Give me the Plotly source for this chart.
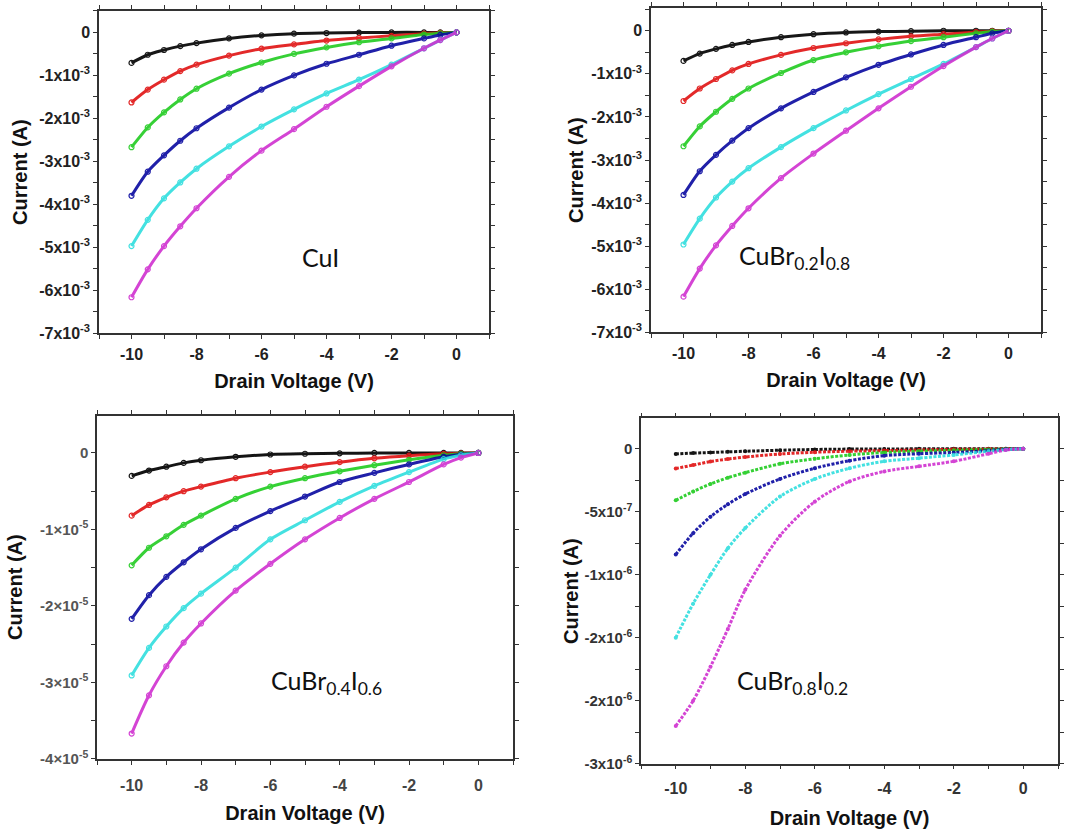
import plotly.graph_objects as go

# ---------------- data ----------------
V = [-10, -9.5, -9, -8.5, -8, -7, -6, -5, -4, -3, -2, -1, -0.5, 0]

series_names = ["Vg1", "Vg2", "Vg3", "Vg4", "Vg5", "Vg6"]
colors = ["#000000", "#e01414", "#22cc22", "#0a0aa0", "#30dede", "#d030d0"]

# Panel 1: CuI  (units of 1e-3 A)
cui_scale = 1e-3
cui_black = [-0.71, -0.52, -0.41, -0.32, -0.25, -0.14, -0.07, -0.03, -0.015, -0.005, 0, 0, 0, 0]
cui_red = [-1.63, -1.33, -1.10, -0.90, -0.75, -0.54, -0.38, -0.28, -0.19, -0.13, -0.08, -0.03, -0.01, 0]
cui_green = [-2.67, -2.21, -1.86, -1.56, -1.31, -0.96, -0.70, -0.50, -0.35, -0.23, -0.14, -0.05, -0.02, 0]
cui_blue = [-3.80, -3.24, -2.86, -2.52, -2.23, -1.75, -1.33, -1.00, -0.73, -0.52, -0.31, -0.14, -0.06, 0]
cui_cyan = [-4.97, -4.36, -3.86, -3.49, -3.17, -2.65, -2.19, -1.79, -1.42, -1.10, -0.75, -0.37, -0.18, 0]
cui_magenta = [-6.16, -5.51, -4.97, -4.51, -4.09, -3.36, -2.75, -2.25, -1.73, -1.25, -0.79, -0.37, -0.18, 0]

# Panel 2: CuBr0.2I0.8  (units of 1e-3 A)
br02_scale = 1e-3
br02_black = [-0.70, -0.53, -0.42, -0.33, -0.26, -0.15, -0.08, -0.04, -0.02, -0.01, 0, 0, 0, 0]
br02_red = [-1.63, -1.34, -1.12, -0.92, -0.77, -0.56, -0.40, -0.29, -0.20, -0.13, -0.08, -0.03, -0.01, 0]
br02_green = [-2.68, -2.22, -1.88, -1.58, -1.34, -0.98, -0.68, -0.50, -0.36, -0.24, -0.15, -0.06, -0.02, 0]
br02_blue = [-3.81, -3.26, -2.88, -2.55, -2.26, -1.80, -1.42, -1.08, -0.79, -0.55, -0.33, -0.15, -0.06, 0]
br02_cyan = [-4.96, -4.36, -3.87, -3.50, -3.19, -2.70, -2.26, -1.85, -1.47, -1.12, -0.77, -0.38, -0.18, 0]
br02_magenta = [-6.17, -5.52, -4.98, -4.53, -4.12, -3.42, -2.85, -2.32, -1.80, -1.30, -0.82, -0.38, -0.18, 0]

# Panel 3: CuBr0.4I0.6  (units of 1e-5 A)
br04_scale = 1e-5
br04_black = [-0.30, -0.23, -0.18, -0.13, -0.095, -0.05, -0.02, -0.01, -0.005, 0, 0, 0, 0, 0]
br04_red = [-0.82, -0.68, -0.58, -0.50, -0.44, -0.33, -0.25, -0.18, -0.12, -0.07, -0.035, -0.01, -0.005, 0]
br04_green = [-1.47, -1.24, -1.09, -0.94, -0.82, -0.60, -0.44, -0.33, -0.24, -0.16, -0.09, -0.03, -0.01, 0]
br04_blue = [-2.17, -1.86, -1.62, -1.43, -1.26, -0.98, -0.76, -0.57, -0.38, -0.26, -0.15, -0.05, -0.02, 0]
br04_cyan = [-2.91, -2.55, -2.27, -2.03, -1.84, -1.50, -1.13, -0.88, -0.64, -0.43, -0.25, -0.08, -0.03, 0]
br04_magenta = [-3.67, -3.17, -2.79, -2.48, -2.23, -1.80, -1.45, -1.13, -0.85, -0.60, -0.38, -0.15, -0.06, 0]

# Panel 4: CuBr0.8I0.2  (units of 1e-7 A)
br08_scale = 1e-7
br08_black = [-0.42, -0.35, -0.30, -0.25, -0.20, -0.12, -0.06, -0.03, -0.02, -0.01, 0, 0, 0, 0]
br08_red = [-1.57, -1.30, -1.02, -0.82, -0.66, -0.42, -0.28, -0.20, -0.15, -0.10, -0.05, -0.03, -0.01, 0]
br08_green = [-4.10, -3.40, -2.80, -2.30, -1.90, -1.20, -0.80, -0.50, -0.30, -0.20, -0.13, -0.06, -0.03, 0]
br08_blue = [-8.40, -6.70, -5.40, -4.40, -3.60, -2.40, -1.55, -0.95, -0.55, -0.40, -0.30, -0.15, -0.05, 0]
br08_cyan = [-15.0, -12.3, -10.0, -7.9, -6.3, -3.8, -2.4, -1.55, -1.0, -0.75, -0.50, -0.20, -0.08, 0]
br08_magenta = [-22.0, -20.0, -17.3, -14.3, -11.2, -6.9, -4.2, -2.6, -1.8, -1.4, -1.0, -0.40, -0.10, 0]

# tick labels
x_tickvals = [-10, -8, -6, -4, -2, 0]
x_ticktext = ["-10", "-8", "-6", "-4", "-2", "0"]

y1_tickvals = [0, -1e-3, -2e-3, -3e-3, -4e-3, -5e-3, -6e-3, -7e-3]
y1_ticktext = ["0"] + ["-%dx10<sup>-3</sup>" % k for k in range(1, 8)]

y3_tickvals = [0, -1e-5, -2e-5, -3e-5, -4e-5]
y3_ticktext = ["0"] + ["-%d×10<sup>-5</sup>" % k for k in range(1, 5)]

y4_tickvals = [0, -5e-7, -1e-6, -1.5e-6, -2e-6, -2.5e-6]
y4_ticktext = ["0", "-5x10<sup>-7</sup>", "-1x10<sup>-6</sup>", "-2x10<sup>-6</sup>",
               "-2x10<sup>-6</sup>", "-3x10<sup>-6</sup>"]

panel_labels = ["CuI", "CuBr<sub>0.2</sub>I<sub>0.8</sub>",
                "CuBr<sub>0.4</sub>I<sub>0.6</sub>", "CuBr<sub>0.8</sub>I<sub>0.2</sub>"]

# ---------------- figure ----------------
panels = [
    (cui_scale, [cui_black, cui_red, cui_green, cui_blue, cui_cyan, cui_magenta]),
    (br02_scale, [br02_black, br02_red, br02_green, br02_blue, br02_cyan, br02_magenta]),
    (br04_scale, [br04_black, br04_red, br04_green, br04_blue, br04_cyan, br04_magenta]),
    (br08_scale, [br08_black, br08_red, br08_green, br08_blue, br08_cyan, br08_magenta]),
]

fig = go.Figure()
for p, (scale, curves) in enumerate(panels):
    ax = "" if p == 0 else str(p + 1)
    for name, col, vals in zip(series_names, colors, curves):
        if p == 3:
            marker = dict(symbol="circle", size=4, color=col)
            line = dict(color=col, width=3, shape="spline", smoothing=0.8, dash="3px,1.5px")
        else:
            marker = dict(symbol="circle-open", size=5, color=col, line=dict(width=1.2, color=col))
            line = dict(color=col, width=3, shape="spline", smoothing=0.8)
        fig.add_trace(go.Scatter(
            x=V, y=[v * scale for v in vals], mode="lines+markers", name=name,
            line=line, marker=marker, opacity=0.9,
            xaxis="x" + ax, yaxis="y" + ax, showlegend=False))

AX_COLOR = "#333333"
FONT = "Liberation Sans, Arial, sans-serif"


def tfont(size=16, color="#222222", weight="bold"):
    return dict(family=FONT, size=size, color=color, weight=weight)


titlefont = dict(family=FONT, size=20, color="#111111", weight="bold")


def xaxis_cfg(domain, anchor, tick_color="#222222", lab_off=2, title_off=12):
    return dict(domain=domain, anchor=anchor, range=[-11, 1],
                tickmode="array", tickvals=x_tickvals, ticktext=x_ticktext,
                ticks="outside", ticklen=4, tickwidth=1.3, tickcolor=AX_COLOR,
                showline=True, linecolor=AX_COLOR, linewidth=1.5, mirror="ticks",
                showgrid=False, zeroline=False, tickfont=tfont(16, tick_color),
                ticklabelstandoff=lab_off,
                minor=dict(tickmode="linear", tick0=-11, dtick=1, ticks="outside",
                           ticklen=4, tickwidth=1.2, tickcolor=AX_COLOR),
                title=dict(text="Drain Voltage (V)", font=titlefont, standoff=title_off))


def yaxis_cfg(domain, anchor, rng, tv, tt, mdt, tsize=16, tcol="#222222", title_off=8):
    return dict(domain=domain, anchor=anchor, range=rng,
                tickmode="array", tickvals=tv, ticktext=tt,
                ticks="outside", ticklen=4, tickwidth=1.3, tickcolor=AX_COLOR,
                showline=True, linecolor=AX_COLOR, linewidth=1.5, mirror="ticks",
                showgrid=False, zeroline=False, tickfont=tfont(tsize, tcol),
                minor=dict(tickmode="linear", tick0=0, dtick=mdt, ticks="outside",
                           ticklen=4, tickwidth=1.2, tickcolor=AX_COLOR),
                title=dict(text="Current (A)", font=titlefont, standoff=title_off))


W, H = 1081, 840


def dx(a, b):
    return [a / W, b / W]


def dy(top, bottom):
    return [1 - bottom / H, 1 - top / H]


fig.update_layout(
    width=W, height=H,
    margin=dict(l=0, r=0, t=0, b=0),
    paper_bgcolor="white", plot_bgcolor="white",
    xaxis=xaxis_cfg(dx(99, 489), "y"),
    yaxis=yaxis_cfg(dy(11, 337), "x", [-7e-3, 0.5e-3], y1_tickvals, y1_ticktext, 0.5e-3,
                    title_off=6),
    xaxis2=xaxis_cfg(dx(651, 1041), "y2"),
    yaxis2=yaxis_cfg(dy(8, 336), "x2", [-7e-3, 0.53e-3], y1_tickvals, y1_ticktext, 0.5e-3,
                     title_off=2),
    xaxis3=xaxis_cfg(dx(97, 513), "y3", "#444444", 7, 13),
    yaxis3=yaxis_cfg(dy(420, 767), "x3", [-4e-5, 0.49e-5], y3_tickvals, y3_ticktext, 0.5e-5,
                     15, "#555555", title_off=12),
    xaxis4=xaxis_cfg(dx(641, 1058), "y4", "#333333", 5, 15),
    yaxis4=yaxis_cfg(dy(423, 772), "x4", [-2.5e-6, 0.24e-6], y4_tickvals, y4_ticktext, 0.25e-6,
                     15, "#333333", title_off=1),
)

label_font = dict(family="Lato, Noto Sans, sans-serif", size=25, color="#111111")
label_pos = [(-4.2, -5.23e-3), (-6.6, -5.25e-3), (-4.37, -3.0e-5), (-6.65, -1.85e-6)]
for p, (txt, (lx, ly)) in enumerate(zip(panel_labels, label_pos)):
    ax = "" if p == 0 else str(p + 1)
    fig.add_annotation(x=lx, y=ly, xref="x" + ax, yref="y" + ax, text=txt,
                       showarrow=False, font=label_font, xanchor="center", yanchor="middle")

fig.write_html("out.html", config={"displayModeBar": False},
               post_script="document.body.style.margin='0';document.body.style.padding='0';")
